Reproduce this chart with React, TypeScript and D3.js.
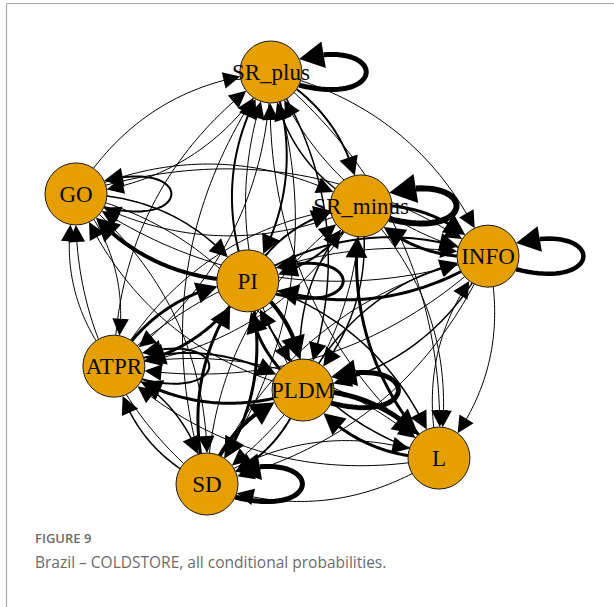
import React from "react";
import * as d3 from "d3";

// ---- data ----
const nodeNames = ["SR_plus", "SR_minus", "GO", "PI", "INFO", "ATPR", "PLDM", "L", "SD"];
// normalized layout coordinates (igraph layout)
const layoutX = [0.473, 0.692, 0.0, 0.417, 1.0, 0.092, 0.551, 0.881, 0.318];
const layoutY = [0.0, 0.325, 0.296, 0.507, 0.447, 0.714, 0.772, 0.937, 1.0];

// conditional probabilities, one row per source node (columns in nodeNames order)
const probFromSRplus = [0.5, 0.2, 0.1, 0.2, 0.1, 0.1, 0.15, 0.1, 0.1];
const probFromSRminus = [0.15, 0.6, 0.1, 0.2, 0.3, 0.1, 0.15, 0.1, 0.1];
const probFromGO = [0.1, 0.1, 0.2, 0.15, 0.1, 0.1, 0.1, 0.0, 0.1];
const probFromPI = [0.2, 0.2, 0.4, 0.3, 0.2, 0.3, 0.4, 0.15, 0.3];
const probFromINFO = [0.1, 0.3, 0.1, 0.3, 0.45, 0.1, 0.15, 0.1, 0.1];
const probFromATPR = [0.1, 0.1, 0.1, 0.3, 0.1, 0.2, 0.2, 0.1, 0.15];
const probFromPLDM = [0.1, 0.15, 0.1, 0.3, 0.15, 0.3, 0.5, 0.5, 0.2];
const probFromL = [0.1, 0.3, 0.0, 0.15, 0.1, 0.1, 0.3, 0.0, 0.1];
const probFromSD = [0.1, 0.1, 0.1, 0.3, 0.1, 0.15, 0.4, 0.1, 0.5];

const captionLabel = "FIGURE 9";
const captionText = "Brazil \u2013 COLDSTORE, all conditional probabilities.";

const probRows = [
  probFromSRplus, probFromSRminus, probFromGO, probFromPI, probFromINFO,
  probFromATPR, probFromPLDM, probFromL, probFromSD,
];

// ---- geometry helpers ----
type P = [number, number];
const R = 31;
const xScale = d3.scaleLinear().domain([0, 1]).range([76, 488]);
const yScale = d3.scaleLinear().domain([0, 1]).range([72, 484]);
const widthScale = d3.scaleLinear().domain([0, 1]).range([0, 10]);

function quad(p0: P, c: P, p2: P, t: number): P {
  const u = 1 - t;
  return [u * u * p0[0] + 2 * u * t * c[0] + t * t * p2[0], u * u * p0[1] + 2 * u * t * c[1] + t * t * p2[1]];
}
function cubic(p0: P, c1: P, c2: P, p3: P, t: number): P {
  const u = 1 - t;
  return [
    u * u * u * p0[0] + 3 * u * u * t * c1[0] + 3 * u * t * t * c2[0] + t * t * t * p3[0],
    u * u * u * p0[1] + 3 * u * u * t * c1[1] + 3 * u * t * t * c2[1] + t * t * t * p3[1],
  ];
}
const dist = (a: P, b: P) => Math.hypot(a[0] - b[0], a[1] - b[1]);

function solveT(f: (t: number) => P, ref: P, target: number, lo: number, hi: number): number {
  const dlo = dist(f(lo), ref) - target;
  for (let i = 0; i < 40; i++) {
    const mid = (lo + hi) / 2;
    const dm = dist(f(mid), ref) - target;
    if ((dm < 0) === (dlo < 0)) lo = mid;
    else hi = mid;
  }
  return (lo + hi) / 2;
}

function arrowPoly(tip: P, from: P, len: number, hw: number): string {
  const dx = tip[0] - from[0], dy = tip[1] - from[1];
  const l = Math.hypot(dx, dy) || 1;
  const ux = dx / l, uy = dy / l;
  const bx = tip[0] - ux * len, by = tip[1] - uy * len;
  const px = -uy, py = ux;
  return `${tip[0]},${tip[1]} ${bx + px * hw},${by + py * hw} ${bx - px * hw},${by - py * hw}`;
}

const lineGen = d3.line<P>().x((d) => d[0]).y((d) => d[1]);

export default function App() {
  const pos: P[] = nodeNames.map((_, i) => [xScale(layoutX[i]), yScale(layoutY[i])]);

  const edges: { d: string; arrow: string; w: number; key: string }[] = [];
  const loops: { d: string; arrow: string; w: number; key: string }[] = [];

  probRows.forEach((row, a) => {
    row.forEach((p, b) => {
      if (p <= 0) return;
      const w = widthScale(p);
      const len = 15 + 2 * w;
      const hw = 7 + 1.3 * w;
      if (a === b) {
        const c = pos[a];
        const ang = (25 * Math.PI) / 180;
        const p0: P = [c[0] + R * Math.cos(ang), c[1] + R * Math.sin(ang)];
        const p3: P = [c[0] + R * Math.cos(ang), c[1] - R * Math.sin(ang)];
        const c1: P = [c[0] + 3.8 * R, c[1] + 1.15 * R];
        const c2: P = [c[0] + 3.8 * R, c[1] - 1.15 * R];
        const f = (t: number) => cubic(p0, c1, c2, p3, t);
        const tb = solveT(f, p3, len, 0.5, 1);
        const pts: P[] = d3.range(0, 41).map((i) => f((i / 40) * tb));
        const tail = f(tb);
        loops.push({ d: lineGen(pts) || "", arrow: arrowPoly(p3, tail, len, hw), w, key: `l${a}` });
        return;
      }
      const p0 = pos[a], p2 = pos[b];
      const dx = p2[0] - p0[0], dy = p2[1] - p0[1];
      const L = Math.hypot(dx, dy);
      const nx = dy / L, ny = -dx / L;
      const curv = 0.25 * L;
      const c: P = [(p0[0] + p2[0]) / 2 + nx * curv, (p0[1] + p2[1]) / 2 + ny * curv];
      const f = (t: number) => quad(p0, c, p2, t);
      const t0 = solveT(f, p0, R, 0, 0.5);
      const tTip = solveT(f, p2, R, 0.5, 1);
      const tip = f(tTip);
      const tBase = solveT(f, tip, len * 0.85, t0, tTip);
      const pts: P[] = d3.range(0, 41).map((i) => f(t0 + ((tBase - t0) * i) / 40));
      const base = f(solveT(f, tip, len, t0, tTip));
      edges.push({ d: lineGen(pts) || "", arrow: arrowPoly(tip, base, len, hw), w, key: `e${a}-${b}` });
    });
  });

  return (
    <svg width={614} height={607} style={{ position: "absolute", left: 0, top: 0, background: "#fff" }}>
      <line x1={6.5} y1={3.5} x2={614} y2={3.5} stroke="#a8a8a8" strokeWidth={1.2} />
      <line x1={6.5} y1={3.5} x2={6.5} y2={607} stroke="#a8a8a8" strokeWidth={1.2} />
      <g>
        {edges.map((e) => (
          <g key={e.key}>
            <path d={e.d} fill="none" stroke="#000" strokeWidth={e.w} />
            <polygon points={e.arrow} fill="#000" />
          </g>
        ))}
        {loops.map((e) => (
          <g key={e.key}>
            <path d={e.d} fill="none" stroke="#000" strokeWidth={e.w} />
            <polygon points={e.arrow} fill="#000" />
          </g>
        ))}
      </g>
      <g>
        {nodeNames.map((n, i) => (
          <g key={n}>
            <circle cx={pos[i][0]} cy={pos[i][1]} r={R} fill="#E69F00" stroke="#1a1a1a" strokeWidth={1} />
            <text
              x={pos[i][0]}
              y={pos[i][1]}
              dy="0.35em"
              textAnchor="middle"
              fontFamily="'Liberation Serif', 'DejaVu Serif', serif"
              fontSize={23}
              fill="#0a0a10"
            >
              {n}
            </text>
          </g>
        ))}
      </g>
      <text x={35} y={543} fontFamily="'Open Sans', 'Noto Sans', sans-serif" fontSize={13} fontWeight={600} fill="#6b6b6b">
        {captionLabel}
      </text>
      <text x={35} y={568} fontFamily="'Open Sans', 'Noto Sans', sans-serif" fontSize={15.5} fill="#6b6b6b">
        {captionText}
      </text>
    </svg>
  );
}
